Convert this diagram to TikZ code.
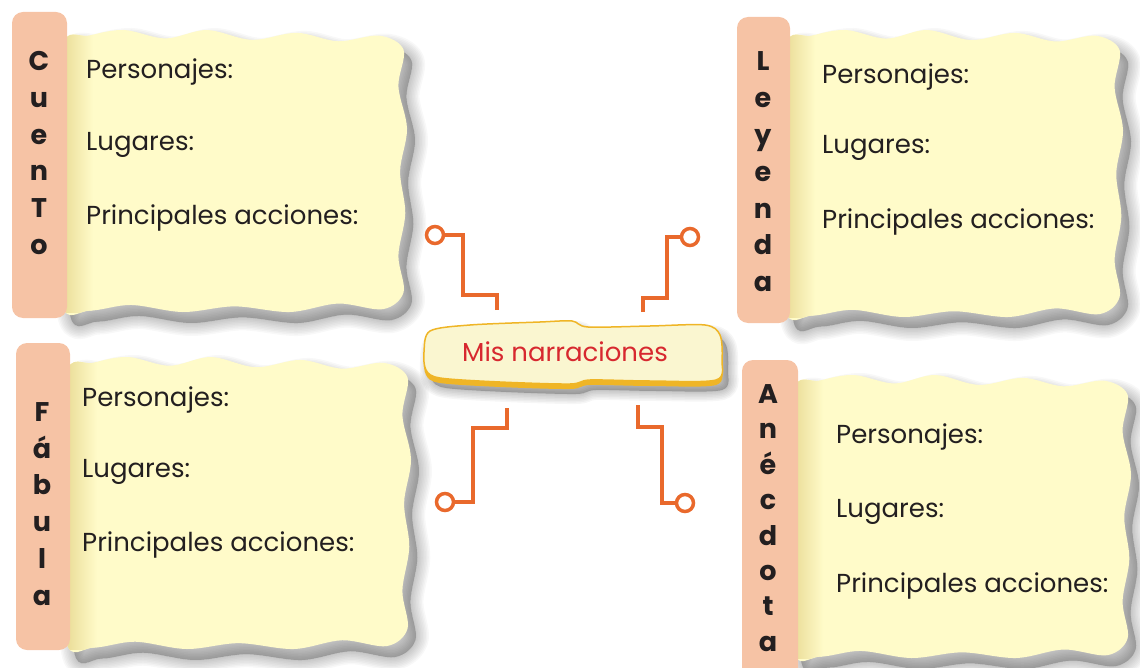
\documentclass[tikz,border=0pt]{standalone}
\usepackage{fontspec}
\setmainfont{Poppins}
\usetikzlibrary{calc}
\definecolor{paper}{HTML}{FFFBC9}
\definecolor{paperdark}{HTML}{EADC97}
\definecolor{tabcol}{HTML}{F6C3A5}
\definecolor{wire}{HTML}{E9692C}
\definecolor{titlefill}{HTML}{FAF6D0}
\definecolor{titleedge}{HTML}{EFB526}
\definecolor{titletext}{HTML}{D7282F}
\definecolor{ink}{HTML}{231F20}
% borde ondulado de la hoja (coordenadas normalizadas)
\newcommand{\wavy}{plot[smooth cycle, tension=0.55] coordinates {(0,0.06) (0.08,0.02) (0.18,0.0) (0.3,0.03) (0.42,0.0) (0.55,0.035) (0.68,0.01) (0.8,0.04) (0.92,0.02) (0.99,0.07) (0.975,0.2) (1.0,0.35) (0.98,0.5) (0.995,0.65) (0.975,0.8) (0.99,0.93) (0.93,0.99) (0.8,0.97) (0.66,1.0) (0.5,0.98) (0.35,1.0) (0.2,0.975) (0.08,0.995) (0,0.97) (0,0.5)}}
% hoja con sombra: x, y, ancho, alto
\newcommand{\hoja}[4]{%
  \begin{scope}[shift={({#1+8},{#2+11})}, xscale=#3, yscale=#4]
    \foreach \lw in {26,23,...,2} \filldraw[black, opacity=0.028, line width=\lw pt, line join=round] \wavy;
  \end{scope}
  \begin{scope}[shift={(#1,#2)}, xscale=#3, yscale=#4]
    \fill[paper] \wavy;
    \begin{scope}
      \clip \wavy;
      \shade[left color=paperdark, right color=paper] (0,0) rectangle (0.09,1);
    \end{scope}
  \end{scope}}
\tikzset{
  item/.style = {anchor=west, inner sep=0pt, text=ink, font=\fontsize{26}{30}\selectfont},
  tabtext/.style = {align=center, inner sep=0pt, text=ink, font=\bfseries\fontsize{27}{36.8}\selectfont},
  tab/.style = {fill=tabcol, rounded corners=11pt},
  link/.style = {draw=wire, line width=3.5pt, line join=miter},
  dot/.style = {circle, draw=wire, line width=3.5pt, fill=white, minimum size=17pt, inner sep=0pt}
}
\begin{document}
\begin{tikzpicture}[x=1pt, y=-1pt]
  \useasboundingbox (0,0) rectangle (1140,668);
  %Hojas
  \hoja{62}{30}{345}{282}
  \hoja{785}{30}{338}{287}
  \hoja{66}{357}{345}{292}
  \hoja{793}{375}{338}{283}
  %Pestañas
  \fill[tab] (12,12) rectangle (67,318);
  \fill[tab] (737,17) rectangle (790,323);
  \fill[tab] (16,343) rectangle (70,650);
  \fill[tab] (742,360) rectangle (798,690);
  \node[tabtext] (cuento) at (39,153) {C\\u\\e\\n\\T\\o};
  \node[tabtext] (leyenda) at (763,172) {L\\e\\y\\e\\n\\d\\a};
  \node[tabtext] (fabula) at (42,504) {F\\á\\b\\u\\l\\a};
  \node[tabtext, font=\bfseries\fontsize{27}{35.4}\selectfont] (anecdota) at (768,518) {A\\n\\é\\c\\d\\o\\t\\a};
  %Textos
  \foreach \n/\y/\t in {1/72/Personajes:, 2/145/Lugares:, 3/218/Principales acciones:}
    \node[item] (cu\n) at (86,\y) {\t};
  \foreach \n/\y/\t in {1/77/Personajes:, 2/148/Lugares:, 3/222/Principales acciones:}
    \node[item] (le\n) at (822,\y) {\t};
  \foreach \n/\y/\t in {1/400/Personajes:, 2/472/Lugares:, 3/545/Principales acciones:}
    \node[item] (fa\n) at (82,\y) {\t};
  \foreach \n/\y/\t in {1/437/Personajes:, 2/512/Lugares:, 3/586/Principales acciones:}
    \node[item] (an\n) at (836,\y) {\t};
  %Recuadro central
  \foreach \lw in {20,17,...,2} \filldraw[black, opacity=0.035, line width=\lw pt, shift={(6,10)}] plot[smooth cycle, tension=0.5] coordinates {(424,352) (430,331) (470,325) (540,322) (572,321) (588,327) (650,326) (705,325) (720,335) (722,360) (716,380) (650,381) (590,380) (570,384) (500,382) (440,378) (426,370)};
  \fill[titleedge, shift={(0,5)}] plot[smooth cycle, tension=0.5] coordinates {(424,352) (430,331) (470,325) (540,322) (572,321) (588,327) (650,326) (705,325) (720,335) (722,360) (716,380) (650,381) (590,380) (570,384) (500,382) (440,378) (426,370)};
  \filldraw[fill=titlefill, draw=titleedge, line width=1.5pt] plot[smooth cycle, tension=0.5] coordinates {(424,352) (430,331) (470,325) (540,322) (572,321) (588,327) (650,326) (705,325) (720,335) (722,360) (716,380) (650,381) (590,380) (570,384) (500,382) (440,378) (426,370)};
  \node[text=titletext, font=\fontsize{26}{30}\selectfont] (titulo) at (565,352) {Mis narraciones};
  %Conectores
  \node[dot] (dotTL) at (435,235) {};
  \node[dot] (dotTR) at (690,237) {};
  \node[dot] (dotBL) at (445,502) {};
  \node[dot] (dotBR) at (685,503) {};
  \coordinate (endTL) at (497,310);
  \coordinate (endTR) at (643,312);
  \coordinate (endBL) at (507,408);
  \coordinate (endBR) at (638,405);
  \draw[link] (endTL) -- ++(0,-15) -- ++(-34,0) |- (dotTL);
  \draw[link] (endTR) -- ++(0,-14) -- ++(24,0) |- (dotTR);
  \draw[link] (endBL) -- ++(0,20) -- ++(-34,0) |- (dotBL);
  \draw[link] (endBR) -- ++(0,22) -- ++(24,0) |- (dotBR);
\end{tikzpicture}
\end{document}
